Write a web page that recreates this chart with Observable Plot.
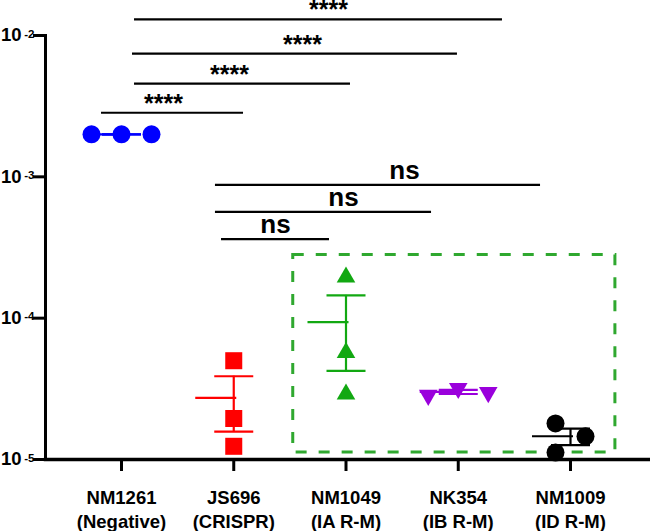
<!DOCTYPE html>
<html><head><meta charset="utf-8">
<script src="https://cdn.jsdelivr.net/npm/d3@7"></script>
<script src="https://cdn.jsdelivr.net/npm/@observablehq/plot@0.6"></script>
<style>body{margin:0;background:#fff} svg{display:block}</style>
</head><body><div id="chart"></div>
<script>
// ---- data ----
const categories = ["NM1261", "JS696", "NM1049", "NK354", "NM1009"];
const subtitles = ["(Negative)", "(CRISPR)", "(IA R-M)", "(IB R-M)", "(ID R-M)"];
const nm1261 = [2.0e-3, 2.0e-3, 2.0e-3];
const js696 = [5.0e-5, 1.95e-5, 1.24e-5];
const nm1049 = [1.95e-4, 5.7e-5, 2.9e-5];
const nk354 = [3.19e-5, 2.98e-5, 2.85e-5];
const nm1009 = [1.80e-5, 1.46e-5, 1.12e-5];
const yTicks = [1e-5, 1e-4, 1e-3, 1e-2];
// significance brackets (category units, value level)
const bracketFrom  = [0.116, 0.098, 0.116, -0.178, 0.837, 0.837, 0.891];
const bracketTo    = [3.394, 2.993, 2.040, 1.087, 3.733, 2.762, 1.853];
const bracketLevel = [1.30e-2, 7.45e-3, 4.57e-3, 2.84e-3, 8.78e-4, 5.65e-4, 3.63e-4];
const bracketLabelAt = [1.844, 1.612, 0.962, 0.374, 2.521, 1.978, 1.372];
const bracketLabel = ["****", "****", "****", "****", "ns", "ns", "ns"];
// highlighted region (dashed box)
const highlightCats = ["NM1049", "NM1009"];
const highlightRange = [1.12e-5, 2.8e-4];

// ---- styles ----
const colors = ["#0000ff", "#ff0000", "#12a812", "#9a00dc", "#000000"];
const symbols = ["circle", "square", "triangle", "triangle", "circle"];
const rotations = [0, 0, 0, 180, 0];
const radii = [9, 9.6, 6.9, 6.9, 9];

const W = 650, H = 531, mT = 35, mB = 72, mL = 45, mR = 0;
const xRange = [121, 570];
const step = (xRange[1] - xRange[0]) / (categories.length - 1);
const yDomain = [1e-5, 1e-2];
const yPix = d3.scaleLog(yDomain, [H - mB, mT]);

function swarm(values, colPx, minGap) {
  const placed = [];
  values.forEach(v => {
    const y = yPix(v);
    for (let k = 0; k < 20; k++) {
      const c = k === 0 ? 0 : (k % 2 ? (k + 1) / 2 : -k / 2);
      if (!placed.some(p => p.c === c && Math.abs(p.y - y) < minGap)) { placed.push({c, y}); break; }
    }
  });
  const cs = placed.map(p => p.c);
  const mid = (Math.min(...cs) + Math.max(...cs)) / 2;
  return placed.map(p => (p.c - mid) * colPx);
}

const groups = [nm1261, js696, nm1049, nk354, nm1009];
const points = [];
const stats = [];
groups.forEach((vals, i) => {
  const offs = swarm(vals, 30, 20);
  vals.forEach((v, j) => points.push({i, value: v, x: i + offs[j] / step}));
  const mean = d3.mean(vals);
  const sem = d3.deviation(vals) / Math.sqrt(vals.length);
  stats.push({i, mean, lo: mean - sem, hi: mean + sem});
});
const caps = stats.flatMap(s => [{i: s.i, v: s.lo}, {i: s.i, v: s.hi}]);
const brackets = bracketLabel.map((label, k) => ({
  x1: bracketFrom[k], x2: bracketTo[k], y: bracketLevel[k], lx: bracketLabelAt[k], label
}));
const hi0 = categories.indexOf(highlightCats[0]), hi1 = categories.indexOf(highlightCats[1]);
const highlight = [{x1: hi0 - 0.47, x2: hi1 + 0.4, y1: highlightRange[0], y2: highlightRange[1]}];

const marks = [
  Plot.rect(highlight, {x1: "x1", x2: "x2", y1: "y1", y2: "y2", fill: "none",
    stroke: "#2fa82f", strokeWidth: 3, strokeDasharray: "11,12"}),
  Plot.ruleY(brackets, {y: "y", x1: "x1", x2: "x2", stroke: "#000", strokeWidth: 2.2}),
  Plot.text(brackets.filter(b => b.label !== "ns"), {x: "lx", y: "y", text: "label",
    lineAnchor: "bottom", dy: -1, fontSize: 25, fontWeight: "bold", fill: "#000"}),
  Plot.text(brackets.filter(b => b.label === "ns"), {x: "lx", y: "y", text: "label",
    lineAnchor: "bottom", dy: -6, fontSize: 26, fontWeight: "bold", fill: "#000"}),
];
categories.forEach((c, i) => {
  const col = colors[i];
  const s = stats.filter(d => d.i === i);
  marks.push(
    Plot.ruleY(s, {y: "mean", x1: d => d.i - 38 / step, x2: d => d.i + 3 / step, stroke: col, strokeWidth: 2.2}),
    Plot.ruleY(caps.filter(d => d.i === i), {y: "v", x1: d => d.i - 19 / step, x2: d => d.i + 20 / step, stroke: col, strokeWidth: 2.2}),
    Plot.ruleX(s, {x: "i", y1: "lo", y2: "hi", stroke: col, strokeWidth: 2.2}),
    Plot.dot(points.filter(d => d.i === i), {x: "x", y: "value", symbol: () => symbols[i],
      r: radii[i], fill: col, rotate: rotations[i]})
  );
});
marks.push(
  Plot.frame({anchor: "left", strokeWidth: 3, stroke: "#000"}),
  Plot.frame({anchor: "bottom", strokeWidth: 3.5, stroke: "#000"}),
  Plot.axisY({ticks: yTicks, tickFormat: () => "10", tickSize: 12, tickPadding: 12,
    strokeWidth: 3, label: null}),
  Plot.text(yTicks, {y: d => d, text: d => String(Math.round(Math.log10(d))), frameAnchor: "left",
    dx: -11, textAnchor: "end", lineAnchor: "bottom", dy: 2, fontSize: 11.5, fontWeight: "bold", fill: "#000"}),
  Plot.axisX({ticks: d3.range(categories.length), tickFormat: i => categories[i] + "\n" + subtitles[i],
    tickSize: 12, tickPadding: 16, lineHeight: 1.28, strokeWidth: 3, label: null})
);

const chart = Plot.plot({
  width: W, height: H,
  marginTop: mT, marginBottom: mB, marginLeft: mL, marginRight: mR,
  style: {fontFamily: "'Liberation Sans', Arial, sans-serif", fontWeight: "bold", fontSize: "18.5px",
    color: "#000", background: "#fff", overflow: "visible"},
  x: {domain: [0, categories.length - 1], range: xRange},
  y: {type: "log", domain: yDomain},
  marks
});
document.getElementById("chart").appendChild(chart);
</script>
</body></html>
